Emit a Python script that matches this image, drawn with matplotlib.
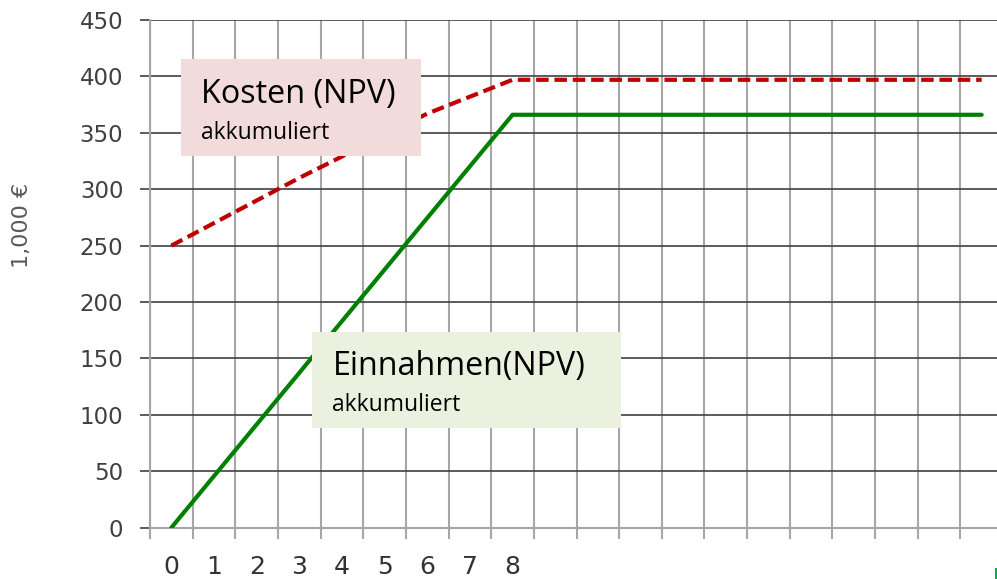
import matplotlib
matplotlib.use("Agg")
import matplotlib.pyplot as plt
from matplotlib.patches import Rectangle
import numpy as np

# ---- data ----
n_categories = 20
x_labels = ["0", "1", "2", "3", "4", "5", "6", "7", "8"]
years = list(range(20))
kosten = [250, 270, 290, 310, 329, 348, 367, 382, 397,
          397, 397, 397, 397, 397, 397, 397, 397, 397, 397, 397]
einnahmen = [0, 45.75, 91.5, 137.25, 183, 228.75, 274.5, 320.25, 366,
             366, 366, 366, 366, 366, 366, 366, 366, 366, 366, 366]
y_ticks = [0, 50, 100, 150, 200, 250, 300, 350, 400, 450]

W, H = 997, 579
fig = plt.figure(figsize=(W / 100, H / 100), dpi=100)

def fx(px):
    return px / W

def fy(py):
    return 1 - py / H

ax_left, ax_right, ax_top, ax_bottom = 150, 1003, 20, 527.7
ax = fig.add_axes([fx(ax_left), fy(ax_bottom), fx(ax_right - ax_left), (ax_bottom - ax_top) / H])

ax.plot(years, einnahmen, color="#008000", lw=3.0, solid_capstyle="round", zorder=3)
ax.plot(years, kosten, color="#c00000", lw=3.0, dashes=(3.0, 1.4), zorder=3)

ax.set_xlim(-0.5, n_categories - 0.5)
ax.set_ylim(0, 450)

ax.set_yticks(y_ticks)
ax.set_yticklabels([str(v) for v in y_ticks])
ax.set_xticks(range(len(x_labels)))
ax.set_xticklabels(x_labels)
ax.set_xticks(np.arange(-0.5, n_categories, 1.0), minor=True)

ax.tick_params(axis="y", which="major", length=7.2, width=1.2, color="#404040",
               labelsize=16.5, labelcolor="#404040", pad=12)
ax.tick_params(axis="x", which="major", length=0, labelsize=18, labelcolor="#333333", pad=20)
ax.tick_params(axis="x", which="minor", length=8, width=1.5, color="#a6a6a6")

ax.set_axisbelow(True)
ax.grid(axis="y", which="major", color="#404040", lw=1.2)
ax.grid(axis="x", which="minor", color="#a6a6a6", lw=1.5)

for s in ["top", "right"]:
    ax.spines[s].set_visible(False)
for s in ["left", "bottom"]:
    ax.spines[s].set_color("#a6a6a6")
    ax.spines[s].set_linewidth(1.5)
    ax.spines[s].set_zorder(2.6)

fig.text(fx(22), fy(225), "1,000 €", rotation=90, ha="center", va="center",
         fontsize=16, color="#595959")

# annotation boxes
def box(x0, y0, x1, y1, color):
    fig.add_artist(Rectangle((fx(x0), fy(y1)), fx(x1 - x0), (y1 - y0) / H,
                             transform=fig.transFigure, facecolor=color,
                             edgecolor="none", zorder=5))

box(181, 59, 421, 155.7, "#f2dcdb")
fig.text(fx(201), fy(103.3), "Kosten (NPV)", fontsize=23.3, family="Open Sans",
         va="baseline", ha="left", color="black", zorder=6)
fig.text(fx(200.7), fy(139), "akkumuliert", fontsize=16.5, family="Open Sans",
         va="baseline", ha="left", color="black", zorder=6)

box(311.7, 332.3, 620.7, 428.3, "#ebf1de")
fig.text(fx(333), fy(375), "Einnahmen(NPV)", fontsize=23.2, family="Open Sans",
         va="baseline", ha="left", color="black", zorder=6)
fig.text(fx(332.3), fy(410.7), "akkumuliert", fontsize=16.5, family="Open Sans",
         va="baseline", ha="left", color="black", zorder=6)

# small green mark at bottom right corner
fig.add_artist(Rectangle((fx(994.5), 0), fx(3), 11 / H, transform=fig.transFigure,
                         facecolor="#00b050", edgecolor="none", zorder=6))

fig.savefig("out.png", dpi=100)
